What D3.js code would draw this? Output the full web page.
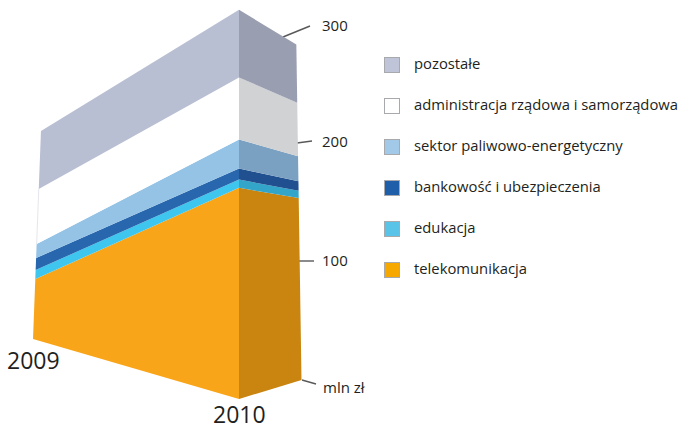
<!DOCTYPE html>
<html>
<head>
<meta charset="utf-8">
<script src="https://cdn.jsdelivr.net/npm/d3@7"></script>
<style>
  html, body { margin: 0; padding: 0; background: #fff; }
  text { font-family: "Open Sans", "Noto Sans", sans-serif; fill: #231f20; }
</style>
</head>
<body>
<div id="chart"></div>
<script>
// bottom to top (mln zl)
var years = ["2009", "2010"];
var telekomunikacja = [60, 153];
var edukacja = [9, 6];
var bankowosc = [12, 8];
var paliwa = [14, 21];
var administracja = [55, 45];
var pozostale = [58, 49];

var seriesNames = ["telekomunikacja", "edukacja", "bankowość i ubezpieczenia",
    "sektor paliwowo-energetyczny", "administracja rządowa i samorządowa", "pozostałe"];
var seriesValues = [telekomunikacja, edukacja, bankowosc, paliwa, administracja, pozostale];
var axisTicks = [0, 100, 200, 300];
var axisLabels = ["mln zł", "100", "200", "300"];

var leftColors = ["#f9a51a", "#3ec6ee", "#2866ae", "#95c3e6", "#ffffff", "#b9bfd3"];
var sideColors = ["#c9850f", "#32a5c9", "#20508f", "#7aa0c2", "#d0d2d4", "#9a9eb1"];
var legendColors = ["#f7a800", "#59c3e8", "#1f5ea8", "#a3c9e8", "#ffffff", "#c0c4d8"];

const width = 679, height = 426;

const svg = d3.select("#chart")
    .append("svg")
    .attr("width", width)
    .attr("height", height)
    .style("display", "block");

// the block has three vertical edges, each with its own perspective scale
var leftEdge = { x: d3.scaleLinear().domain([0, 300]).range([33, 44.5]), y: d3.scaleLinear().domain([0, 300]).range([339, 39]) };
var frontEdge = { x: d3.scaleLinear().domain([0, 300]).range([239, 239]), y: d3.scaleLinear().domain([0, 300]).range([399, -15]) };
var sideEdge = { x: d3.scaleLinear().domain([0, 300]).range([301.5, 296]), y: d3.scaleLinear().domain([0, 300]).range([380, 23]) };

// stack per year
var rows = years.map(function (y, i) {
    var row = { year: y };
    seriesNames.forEach(function (n, s) { row[n] = seriesValues[s][i]; });
    return row;
});
var stacked = d3.stack().keys(seriesNames)(rows);

function pt(edge, v) { return [edge.x(v), edge.y(v)]; }
var polyLine = d3.line();

// axis ticks sit on the back edge, so they are bent by perspective
var tickInnerX = d3.scaleLinear().domain(axisTicks).range([302, 299, 297, 283]);
var tickInnerY = d3.scaleLinear().domain(axisTicks).range([380, 261, 143, 37]);
var tickOuterX = d3.scaleLinear().domain(axisTicks).range([316, 314, 312, 310]);
var tickOuterY = d3.scaleLinear().domain(axisTicks).range([384, 261, 141, 26]);
var labelY = d3.scaleLinear().domain(axisTicks).range([388, 261, 142, 26]);

svg.append("g").selectAll("line")
    .data(axisTicks)
    .join("line")
    .attr("x1", d => tickInnerX(d))
    .attr("y1", d => tickInnerY(d))
    .attr("x2", d => tickOuterX(d))
    .attr("y2", d => tickOuterY(d))
    .attr("stroke", "#58595b")
    .attr("stroke-width", 1.4);

svg.append("g").selectAll("text")
    .data(axisTicks)
    .join("text")
    .attr("x", d => d == 0 ? 323 : 322)
    .attr("y", d => labelY(d))
    .attr("dy", "0.35em")
    .attr("font-size", 15)
    .text((d, i) => axisLabels[i]);

// side face first, front face over it
svg.append("g").selectAll("path")
    .data(stacked)
    .join("path")
    .attr("d", s => polyLine([pt(frontEdge, s[1][0]), pt(sideEdge, s[1][0]), pt(sideEdge, s[1][1]), pt(frontEdge, s[1][1])]) + "Z")
    .attr("fill", (s, i) => sideColors[i]);

svg.append("g").selectAll("path")
    .data(stacked)
    .join("path")
    .attr("d", s => polyLine([pt(leftEdge, s[0][0]), pt(frontEdge, s[1][0]), pt(frontEdge, s[1][1]), pt(leftEdge, s[0][1])]) + "Z")
    .attr("fill", (s, i) => leftColors[i]);

// faint line on the left of the white band
var adminBand = stacked[4];
svg.append("path")
    .attr("d", polyLine([pt(leftEdge, adminBand[0][0]), pt(leftEdge, adminBand[0][1])]))
    .attr("stroke", "#e6e7ec")
    .attr("fill", "none");

// year labels
svg.append("text").attr("x", 7).attr("y", 369).attr("font-size", 23).text(years[0]);
svg.append("text").attr("x", 213).attr("y", 423).attr("font-size", 23).text(years[1]);

// legend, pozostale on top
var legendY = d3.scalePoint().domain(seriesNames.slice().reverse()).range([57, 262]);

var legend = svg.append("g").selectAll("g")
    .data(seriesNames)
    .join("g")
    .attr("transform", d => "translate(384," + legendY(d) + ")");

legend.append("rect")
    .attr("x", 0.5)
    .attr("y", 0.5)
    .attr("width", 15)
    .attr("height", 15)
    .attr("fill", (d, i) => legendColors[i])
    .attr("stroke", "#a7a9ac");

legend.append("text")
    .attr("x", 30)
    .attr("y", 12)
    .attr("font-size", 14.8)
    .text(d => d);
</script>
</body>
</html>
